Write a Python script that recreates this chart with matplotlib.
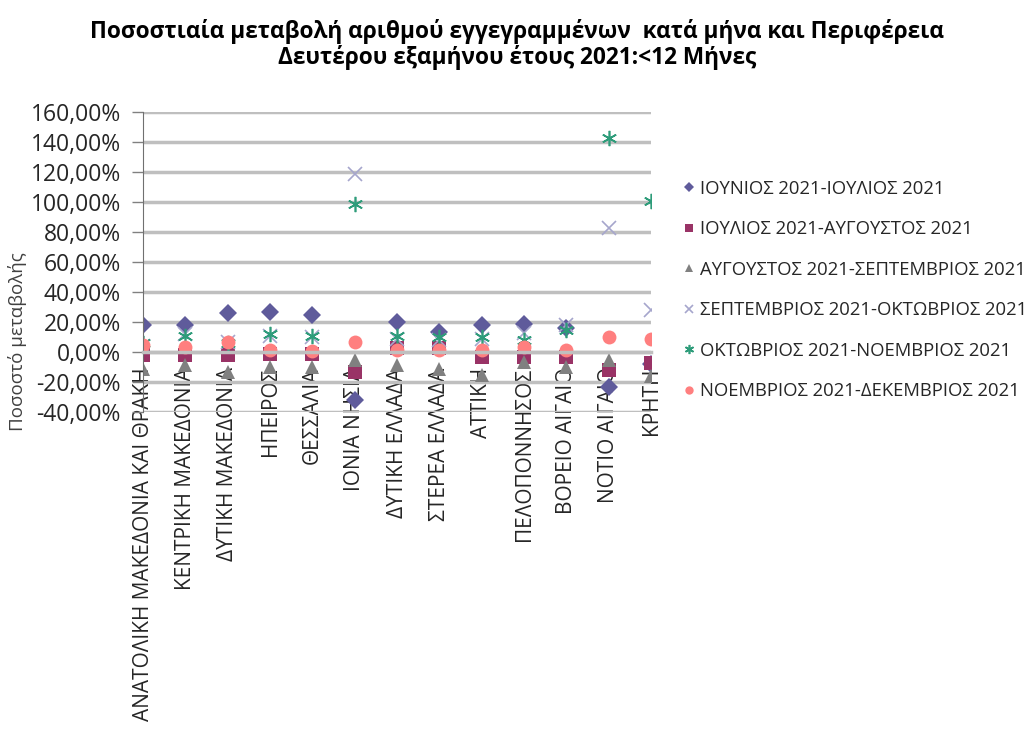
import matplotlib
matplotlib.use("Agg")
import matplotlib.pyplot as plt
from matplotlib.ticker import FuncFormatter

plt.rcParams["font.family"] = ["Open Sans", "DejaVu Sans"]

# ── data (% change) ──
regions = [
    "ΑΝΑΤΟΛΙΚΗ ΜΑΚΕΔΟΝΙΑ ΚΑΙ ΘΡΑΚΗ", "ΚΕΝΤΡΙΚΗ ΜΑΚΕΔΟΝΙΑ", "ΔΥΤΙΚΗ ΜΑΚΕΔΟΝΙΑ",
    "ΗΠΕΙΡΟΣ", "ΘΕΣΣΑΛΙΑ", "ΙΟΝΙΑ ΝΗΣΙΑ", "ΔΥΤΙΚΗ ΕΛΛΑΔΑ", "ΣΤΕΡΕΑ ΕΛΛΑΔΑ",
    "ΑΤΤΙΚΗ", "ΠΕΛΟΠΟΝΝΗΣΟΣ", "ΒΟΡΕΙΟ ΑΙΓΑΙΟ", "ΝΟΤΙΟ ΑΙΓΑΙΟ", "ΚΡΗΤΗ",
]
jun_jul = [18, 18, 26, 27, 24.5, -32, 20, 13.5, 18, 19, 16, -23, -8]
jul_aug = [-2, -2, -2, -1, -1, -13, 3, 2.7, -3, -3, -3, -12, -7.5]
aug_sep = [-11, -8.7, -13, -10, -10, -5, -8.7, -11, -15, -6.5, -10, -5, -16]
sep_oct = [4, 12, 7, 11, 10, 118.7, 9, 8, 9, 13, 18, 82.7, 28]
oct_nov = [6, 11, 6, 12, 11, 98.7, 11, 10, 10, 8, 15, 142.7, 101]
nov_dec = [4.7, 3.3, 6.7, 1.3, 0.5, 6.7, 1.3, 1.3, 1.3, 3.3, 1.3, 10, 8.7]

# label, values, marker, colour, size
series = [
    ("ΙΟΥΝΙΟΣ 2021-ΙΟΥΛΙΟΣ 2021", jun_jul, "D", "#5F5B9B", 9),
    ("ΙΟΥΛΙΟΣ 2021-ΑΥΓΟΥΣΤΟΣ 2021", jul_aug, "s", "#993366", 10),
    ("ΑΥΓΟΥΣΤΟΣ 2021-ΣΕΠΤΕΜΒΡΙΟΣ 2021", aug_sep, "^", "#808080", 10),
    ("ΣΕΠΤΕΜΒΡΙΟΣ 2021-ΟΚΤΩΒΡΙΟΣ 2021", sep_oct, "x", "#A6A6CC", 10),
    ("ΟΚΤΩΒΡΙΟΣ 2021-ΝΟΕΜΒΡΙΟΣ 2021", oct_nov, (6, 2, 0), "#2E9C7A", 11),
    ("ΝΟΕΜΒΡΙΟΣ 2021-ΔΕΚΕΜΒΡΙΟΣ 2021", nov_dec, "o", "#FF7F7F", 10),
]

fig = plt.figure(figsize=(10.34, 7.36), dpi=100)
ax = fig.add_axes([0.1383, 0.4402, 0.4913, 0.4076])

# spine position first - it resets the ticks
for side in ("top", "right"):
    ax.spines[side].set_visible(False)
ax.spines["left"].set_color("#707070")
ax.spines["bottom"].set_position(("data", 0))
ax.spines["bottom"].set_color("#BFBFBF")
ax.spines["bottom"].set_linewidth(2.5)

x = list(range(len(regions)))
for label, vals, mk, col, ms in series:
    line_marker = mk in ("x",) or isinstance(mk, tuple)
    ax.plot(x, vals, linestyle="none", marker=mk, color=col, markersize=ms,
            markeredgewidth=1.2 if line_marker else 0, label=label)

ax.set_xlim(0, len(regions) - 1)
ax.set_ylim(-40, 160)
ax.set_yticks(range(-40, 161, 20))
ax.yaxis.set_major_formatter(FuncFormatter(lambda v, p: f"{v:.2f}%".replace(".", ",")))
ax.grid(axis="y", color="#BFBFBF", linewidth=2.5, zorder=0)
ax.set_axisbelow(True)

ax.set_xticks(x)
ax.set_xticklabels(regions, rotation=90, va="top", ha="center", fontsize=15, color="#262626")
ax.tick_params(axis="x", length=0, pad=11)
ax.tick_params(axis="y", length=8, width=1, color="#808080", pad=8, labelsize=16.5, labelcolor="#262626")

fig.text(0.017, 1 - 342 / 736, "Ποσοστό μεταβολής", rotation=90, ha="center", va="center",
         fontsize=13.5, color="#404040")

fig.text(0.5, 1 - 32 / 736, "Ποσοστιαία μεταβολή αριθμού εγγεγραμμένων  κατά μήνα και Περιφέρεια",
         ha="center", va="center", fontsize=16.3, fontweight="bold")
fig.text(0.5, 1 - 58 / 736, "Δευτέρου εξαμήνου έτους 2021:<12 Μήνες",
         ha="center", va="center", fontsize=16.3, fontweight="bold")

ax.legend(loc="upper left", bbox_to_anchor=(667 / 1034, 1 - 163 / 736),
          bbox_transform=fig.transFigure, frameon=False, fontsize=13.3,
          markerscale=0.6, handlelength=0.6, handletextpad=0.3, labelspacing=1.22,
          labelcolor="#262626")

fig.savefig("out.png", dpi=100, facecolor="white")
